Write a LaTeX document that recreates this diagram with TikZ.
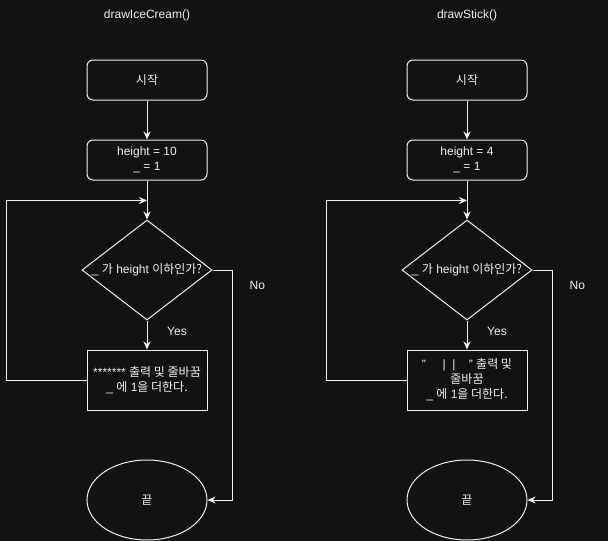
\documentclass[tikz,border=0pt]{standalone}
\usepackage{fontspec}
\setmainfont{Liberation Sans}
\newfontfamily\kr{Noto Sans CJK KR}
\usetikzlibrary{arrows.meta,positioning,shapes.geometric}
\definecolor{fcbg}{RGB}{18,18,18}
\definecolor{fcline}{RGB}{240,240,240}

\begin{document}
\begin{tikzpicture}[x=1pt,y=-1pt,font=\fontsize{12}{15}\selectfont,color=fcline,
    every node/.style={align=center},
    term/.style={draw,line width=1pt,rounded corners=6pt,minimum width=120pt,minimum height=40pt},
    proc/.style={draw,line width=1pt,minimum width=120pt,minimum height=60pt},
    cond/.style={draw,line width=1pt,diamond,aspect=1.3,inner sep=-6pt,minimum width=130pt,minimum height=100pt},
    stop/.style={draw,line width=1pt,ellipse,minimum width=120pt,minimum height=80pt},
    lbl/.style={inner sep=0pt},
    flow/.style={line width=1pt,-{Stealth[length=8pt,width=7pt,inset=2.5pt]}}]
  \fill[fcbg] (0,0) rectangle (608,541);
  \useasboundingbox (0,0) rectangle (608,541);

  % drawIceCream()
  \node (titleL) at (147,15) {drawIceCream()};
  \node[term] (startL) at (147,80) {{\kr 시작}};
  \node[term,below=39pt of startL] (initL) {height = 10\\\_ = 1};
  \node[cond,below=39pt of initL] (diaL) {\_ {\kr 가} height {\kr 이하인가?}};
  \node[proc,below=29pt of diaL] (procL) {******* {\kr 출력 및 줄바꿈}\\\_ {\kr 에} 1{\kr 을 더한다.}};
  \node[stop,below=49pt of procL] (endL) {{\kr 끝}};
  \coordinate[below=20pt of initL] (mergeL);
  \node[lbl,below right=6.5pt and 20pt of diaL.south] (yesL) {Yes};
  \node[lbl,right=37pt of diaL,yshift=-15pt] (noL) {No};
  \draw[flow] (startL) -- (initL);
  \draw[flow] (initL) -- (diaL);
  \draw[flow] (diaL) -- (procL);
  \draw[flow] (procL.west) -- ++(-80,0) |- (mergeL);
  \draw[flow] (diaL.east) -- ++(20,0) |- (endL.east);

  % drawStick()
  \node (titleR) at (467,15) {drawStick()};
  \node[term] (startR) at (467,80) {{\kr 시작}};
  \node[term,below=39pt of startR] (initR) {height = 4\\\_ = 1};
  \node[cond,below=39pt of initR] (diaR) {\_ {\kr 가} height {\kr 이하인가?}};
  \node[proc,below=29pt of diaR] (procR) {"\ \ \ \ \ |\ \ |\ \ \ \ " {\kr 출력 및}\\{\kr 줄바꿈}\\\_ {\kr 에} 1{\kr 을 더한다.}};
  \node[stop,below=49pt of procR] (endR) {{\kr 끝}};
  \coordinate[below=20pt of initR] (mergeR);
  \node[lbl,below right=6.5pt and 20pt of diaR.south] (yesR) {Yes};
  \node[lbl,right=37pt of diaR,yshift=-15pt] (noR) {No};
  \draw[flow] (startR) -- (initR);
  \draw[flow] (initR) -- (diaR);
  \draw[flow] (diaR) -- (procR);
  \draw[flow] (procR.west) -- ++(-80,0) |- (mergeR);
  \draw[flow] (diaR.east) -- ++(20,0) |- (endR.east);
\end{tikzpicture}
\end{document}
